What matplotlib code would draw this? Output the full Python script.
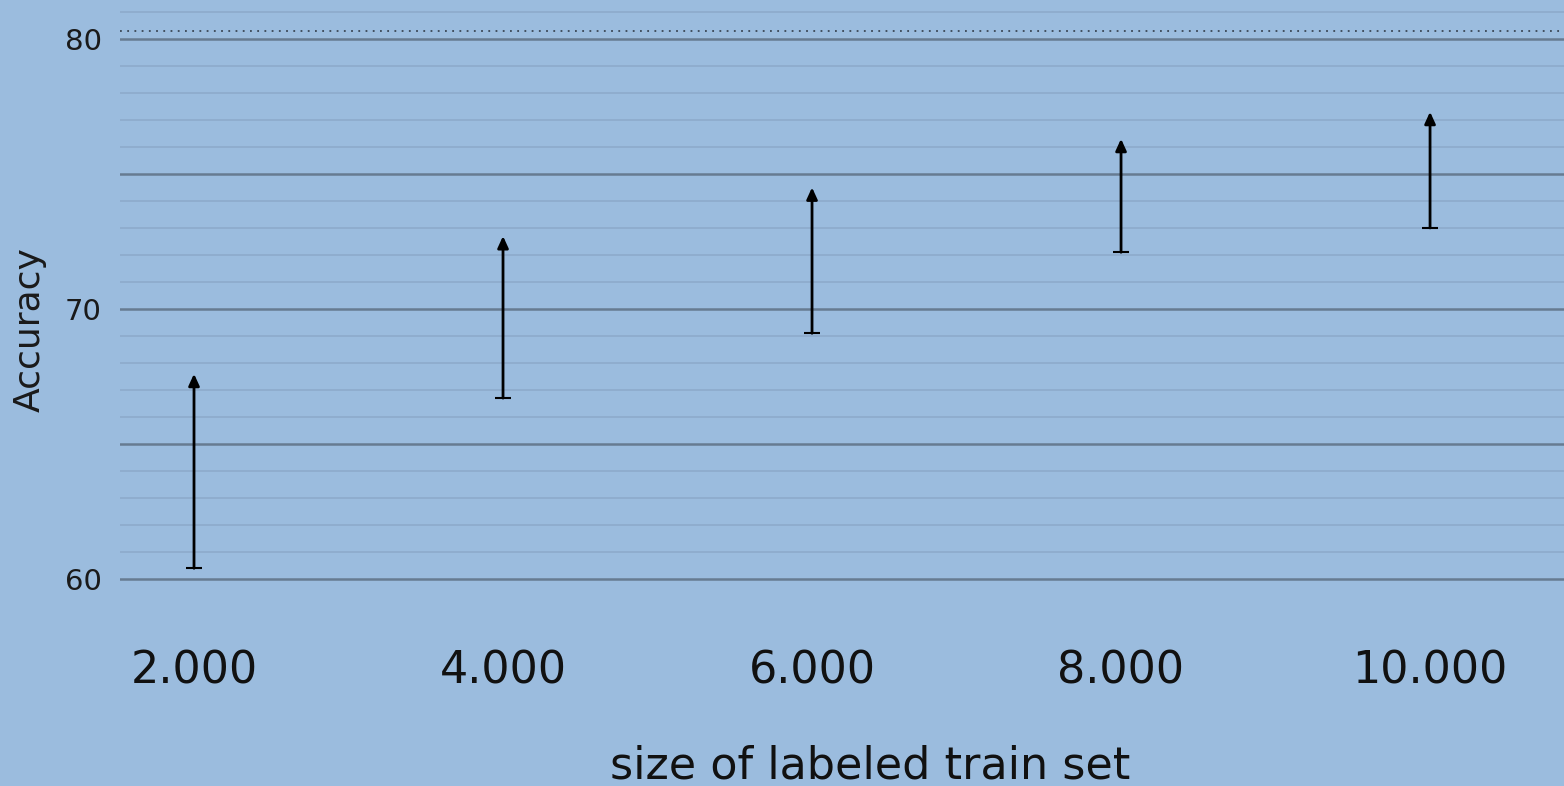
import matplotlib
matplotlib.use("Agg")
import matplotlib.pyplot as plt
from matplotlib.ticker import MultipleLocator

# Accuracy ranges per labeled train-set size
train_sizes = [2000, 4000, 6000, 8000, 10000]
acc_low = [60.4, 66.7, 69.1, 72.1, 73.0]
acc_high = [67.6, 72.7, 74.5, 76.3, 77.3]
xtick_labels = ["2.000", "4.000", "6.000", "8.000", "10.000"]
reference_level = 80.3

bg = "#9bbcde"
fig = plt.figure(figsize=(15.64, 7.86), dpi=100, facecolor=bg)

W, H = 1564, 786
left_px, right_px, top_px, bottom_px = 120, 1564, 0, 598
ax = fig.add_axes([left_px / W, 1 - bottom_px / H,
                   (right_px - left_px) / W, (bottom_px - top_px) / H])
ax.set_facecolor(bg)

ax.set_xlim(1521, 10867)
ax.set_ylim(59.3, 81.44)

for s in ax.spines.values():
    s.set_visible(False)

# gridlines drawn above the arrows
ax.set_axisbelow(False)
ax.yaxis.set_minor_locator(MultipleLocator(1))
ax.yaxis.set_major_locator(MultipleLocator(5))
ax.grid(which="minor", axis="y", color="#8aa7c8", linewidth=1.4, alpha=0.7, zorder=5)
ax.grid(which="major", axis="y", color="#5a6b7e", linewidth=1.8, alpha=0.8, zorder=5)
ax.grid(False, axis="x")

ax.set_yticks([60, 65, 70, 75, 80])
ax.set_yticklabels(["60", "", "70", "", "80"])
ax.tick_params(axis="y", which="both", length=0, pad=13, labelsize=21, labelcolor="#1a1a1a")
ax.set_xticks(train_sizes)
ax.set_xticklabels(xtick_labels)
ax.tick_params(axis="x", length=0, pad=37, labelsize=32, labelcolor="#111111")

for x, lo, hi in zip(train_sizes, acc_low, acc_high):
    ax.annotate("", xy=(x, hi), xytext=(x, lo),
                arrowprops=dict(arrowstyle="-|>,head_length=0.7,head_width=0.32",
                                color="black", lw=2.0, shrinkA=0, shrinkB=0),
                zorder=3)
    ax.plot([x], [lo], marker="_", markersize=12, markeredgewidth=1.5,
            color="black", zorder=3)

ax.axhline(reference_level, color="#3a4654", linestyle=(0, (1, 3)), linewidth=1.3, zorder=6)

fig.text(30 / W, 1 - 330 / H, "Accuracy", rotation=90, ha="center", va="center",
         fontsize=26, color="#1a1a1a")
fig.text(870 / W, 1 - 766 / H, "size of labeled train set", ha="center", va="center",
         fontsize=32, color="#111111")

fig.savefig("out.png", dpi=100, facecolor=bg)
